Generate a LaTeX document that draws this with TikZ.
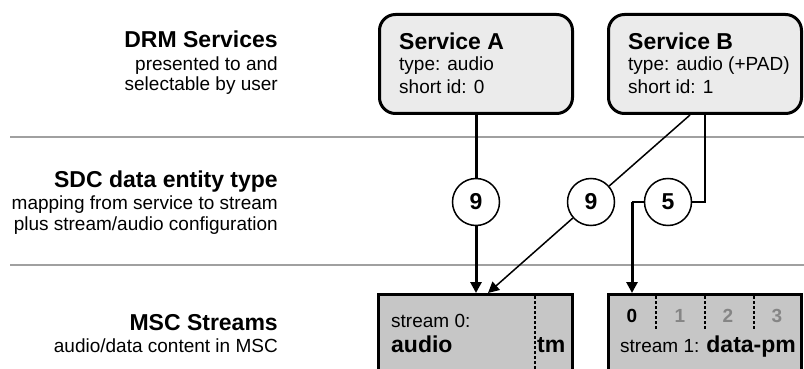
\documentclass[tikz,border=0pt]{standalone}
\usepackage{fontspec}
\setmainfont{Liberation Sans}
\usetikzlibrary{arrows.meta}
\definecolor{sepgray}{HTML}{A0A0A0}
\definecolor{svcfill}{HTML}{EBEBEB}
\definecolor{strmfill}{HTML}{C6C6C6}
\definecolor{digitgray}{HTML}{858585}
\begin{document}
\begin{tikzpicture}[x=1pt,y=-1pt,
  sepline/.style={draw=sepgray,line width=1.5pt},
  svcbox/.style={draw,line width=3pt,rounded corners=16pt,fill=svcfill,minimum width=193pt,minimum height=99pt,inner sep=0pt},
  strmbox/.style={draw,line width=3pt,fill=strmfill,minimum height=92pt,inner sep=0pt},
  numcirc/.style={draw,circle,line width=1.5pt,fill=white,minimum size=47pt,inner sep=0pt,font=\fontsize{23}{26}\selectfont\bfseries},
  head/.style={anchor=base east,inner sep=0pt,font=\fontsize{23}{26}\selectfont\bfseries},
  sub/.style={anchor=base east,inner sep=0pt,font=\fontsize{19}{22}\selectfont},
  ttl/.style={anchor=base west,inner sep=0pt,font=\fontsize{23}{26}\selectfont\bfseries},
  txt/.style={anchor=base west,inner sep=0pt,font=\fontsize{19}{22}\selectfont},
  dig/.style={anchor=base,inner sep=0pt,font=\fontsize{19}{22}\selectfont\bfseries},
  thickln/.style={line width=3pt},
  thinln/.style={line width=1.5pt},
  tip/.style={-{Triangle[length=11pt,width=11pt]}},
  dashln/.style={line width=1.5pt,dash pattern=on 3pt off 2pt}]
\clip (0,0) rectangle (804,369);
% separators
\draw[sepline] (10,137) -- (804,137);
\draw[sepline] (10,265) -- (804,265);
% left labels
\node[head] (h1) at (278,48) {DRM Services};
\node[sub] (h1a) at (278,71) {presented to and};
\node[sub] (h1b) at (278,91) {selectable by user};
\node[head] (h2) at (278,187) {SDC data entity type};
\node[sub] (h2a) at (278,209) {mapping from service to stream};
\node[sub] (h2b) at (278,230) {plus stream/audio configuration};
\node[head] (h3) at (278,330) {MSC Streams};
\node[sub] (h3a) at (278,352) {audio/data content in MSC};
% services
\node[svcbox] (sA) at (476,64) {};
\node[svcbox] (sB) at (705,64) {};
\node[ttl] (sAt) at (399,50) {Service A};
\node[txt] (sA1) at (399,71) {type: audio};
\node[txt] (sA2) at (399,93) {short id: 0};
\node[ttl] (sBt) at (628,50) {Service B};
\node[txt] (sB1) at (628,71) {type: audio (+PAD)};
\node[txt] (sB2) at (628,93) {short id: 1};
% streams
\node[strmbox,minimum width=194pt] (st0) at (475.5,340.5) {};
\node[strmbox,minimum width=193pt] (st1) at (705,340.5) {};
\draw[dashln] (535,296) -- (535,380);
\draw[dashln] (656,296) -- (656,329);
\draw[dashln] (705,296) -- (705,329);
\draw[dashln] (754,296) -- (754,329);
\node[txt] (s0a) at (391,327) {stream 0:};
\node[ttl] (s0b) at (391,352) {audio};
\node[ttl] (s0c) at (537,352) {tm};
\node[dig] (d0) at (632,322) {0};
\node[dig,text=digitgray] (d1) at (680,322) {1};
\node[dig,text=digitgray] (d2) at (728,322) {2};
\node[dig,text=digitgray] (d3) at (777,322) {3};
\node[txt] (s1a) at (620,352) {stream 1: \fontsize{23}{26}\selectfont\bfseries data-pm};
% circles
\node[numcirc] (c1) at (476,202) {9};
\node[numcirc] (c2) at (591,202) {9};
\node[numcirc] (c3) at (668,202) {5};
% connectors
\coordinate (bd) at (690,115);
\coordinate (td) at (488,293);
\coordinate (k) at (632,202);
\draw[thickln] (sA.south) -- (c1.north);
\draw[thickln,tip] (c1.south) -- (c1.south |- st0.north);
\draw[thinln] (bd) -- (c2);
\draw[thinln,tip] (c2) -- (td);
\draw[thinln] (sB.south) -- (sB.south |- c3.east) -- (c3.east);
\draw[thinln] (c3.west) -- (k);
\draw[thickln,tip] (k) -- (k |- st1.north);
\end{tikzpicture}
\end{document}
